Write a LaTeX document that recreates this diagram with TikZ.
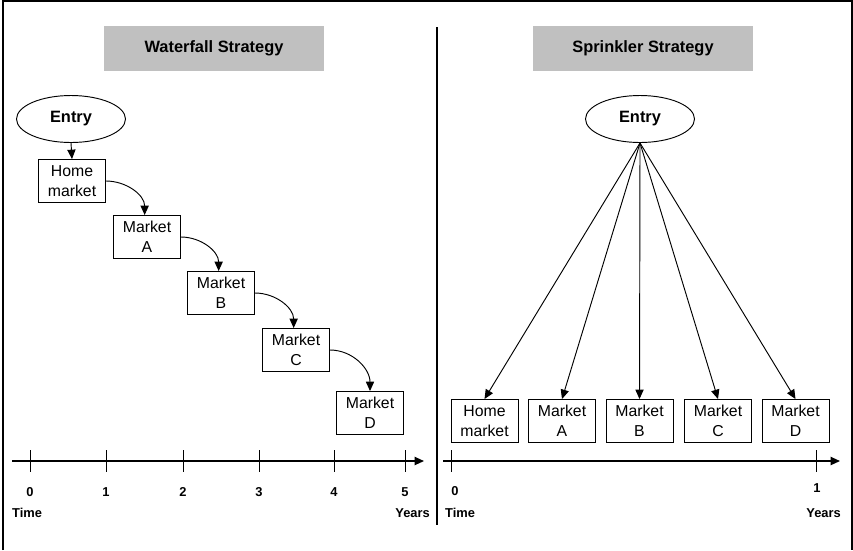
\documentclass[tikz,border=0pt]{standalone}
\usepackage{fontspec}
\setmainfont{Liberation Sans}
\usetikzlibrary{arrows.meta,shapes.geometric}
\definecolor{titlegray}{RGB}{192,192,192}
\tikzset{
  mkt/.style={draw, line width=0.8pt, minimum width=2.01cm, minimum height=1.29cm,
    inner sep=0pt, align=center, font=\fontsize{13.5}{17}\selectfont},
  entry/.style={draw, ellipse, line width=0.8pt, minimum width=3.27cm, minimum height=1.41cm,
    inner sep=0pt, font=\fontsize{14}{17}\selectfont\bfseries},
  heading/.style={fill=titlegray, minimum width=6.6cm, minimum height=1.35cm,
    inner sep=0pt, font=\fontsize{14}{17}\selectfont\bfseries},
  axlabel/.style={inner sep=0pt, font=\fontsize{11}{13}\selectfont\bfseries},
  flow/.style={-{Triangle[length=8pt,width=7pt]}, line width=0.8pt},
  timeline/.style={-{Triangle[length=8pt,width=7pt]}, line width=1.3pt},
}
\begin{document}
\begin{tikzpicture}[x=0.03cm, y=-0.03cm]
  \useasboundingbox (0,0) rectangle (853,550);
  % frame and divider
  \draw[line width=0.9pt] (3,550) -- (3,1) -- (852,1) -- (852,550);
  \draw[line width=0.9pt] (437,27) -- (437,525);

  % waterfall
  \node[heading] (wtitle) at (214,48.5) {Waterfall Strategy};
  \node[entry] (wentry) at (71,119) {Entry};
  \node[mkt] (whome) at (72,181) {Home\\market};
  \node[mkt] (wa) at (147,237) {Market\\A};
  \node[mkt] (wb) at (221,293) {Market\\B};
  \node[mkt] (wc) at (296,350) {Market\\C};
  \node[mkt] (wd) at (370,413) {Market\\D};
  \draw[flow] (wentry.south) -- (whome.north);
  \draw[flow] (whome.east) to[out=0, in=90] ([xshift=-2]wa.north);
  \draw[flow] (wa.east) to[out=0, in=90] ([xshift=-2]wb.north);
  \draw[flow] (wb.east) to[out=0, in=90] ([xshift=-2]wc.north);
  \draw[flow] (wc.east) to[out=0, in=90] (wd.north);

  % waterfall time axis
  \coordinate (wax0) at (12,461);
  \coordinate (wax1) at (424,461);
  \draw[timeline] (wax0) -- (wax1);
  \foreach \i/\x in {0/30,1/106,2/183,3/259,4/334,5/405}{
    \draw[line width=0.8pt] (\x,450) -- (\x,472);
    \node[axlabel] (wt\i) at (\x,492) {\i};
  }
  \node[axlabel, anchor=west] (wtime) at (12,513) {Time};
  \node[axlabel, anchor=east] (wyears) at (430,513) {Years};

  % sprinkler
  \node[heading] (stitle) at (643,48.5) {Sprinkler Strategy};
  \node[entry] (sentry) at (640,119) {Entry};
  \node[mkt] (shome) at (484.5,421) {Home\\market};
  \node[mkt] (sa) at (562,421) {Market\\A};
  \node[mkt] (sb) at (639.5,421) {Market\\B};
  \node[mkt] (sc) at (718,421) {Market\\C};
  \node[mkt] (sd) at (795.5,421) {Market\\D};
  \foreach \n in {shome,sa,sb,sc,sd}
    \draw[flow] (sentry.south) -- (\n.north);

  % sprinkler time axis
  \coordinate (sax0) at (443,461);
  \coordinate (sax1) at (840,461);
  \draw[timeline] (sax0) -- (sax1);
  \draw[line width=0.8pt] (451,450) -- (451,472);
  \draw[line width=0.8pt] (816,450) -- (816,472);
  \node[axlabel] (st0) at (455,491) {0};
  \node[axlabel] (st1) at (817,488) {1};
  \node[axlabel, anchor=west] (stime) at (445,513) {Time};
  \node[axlabel, anchor=east] (syears) at (841,513) {Years};
\end{tikzpicture}
\end{document}
